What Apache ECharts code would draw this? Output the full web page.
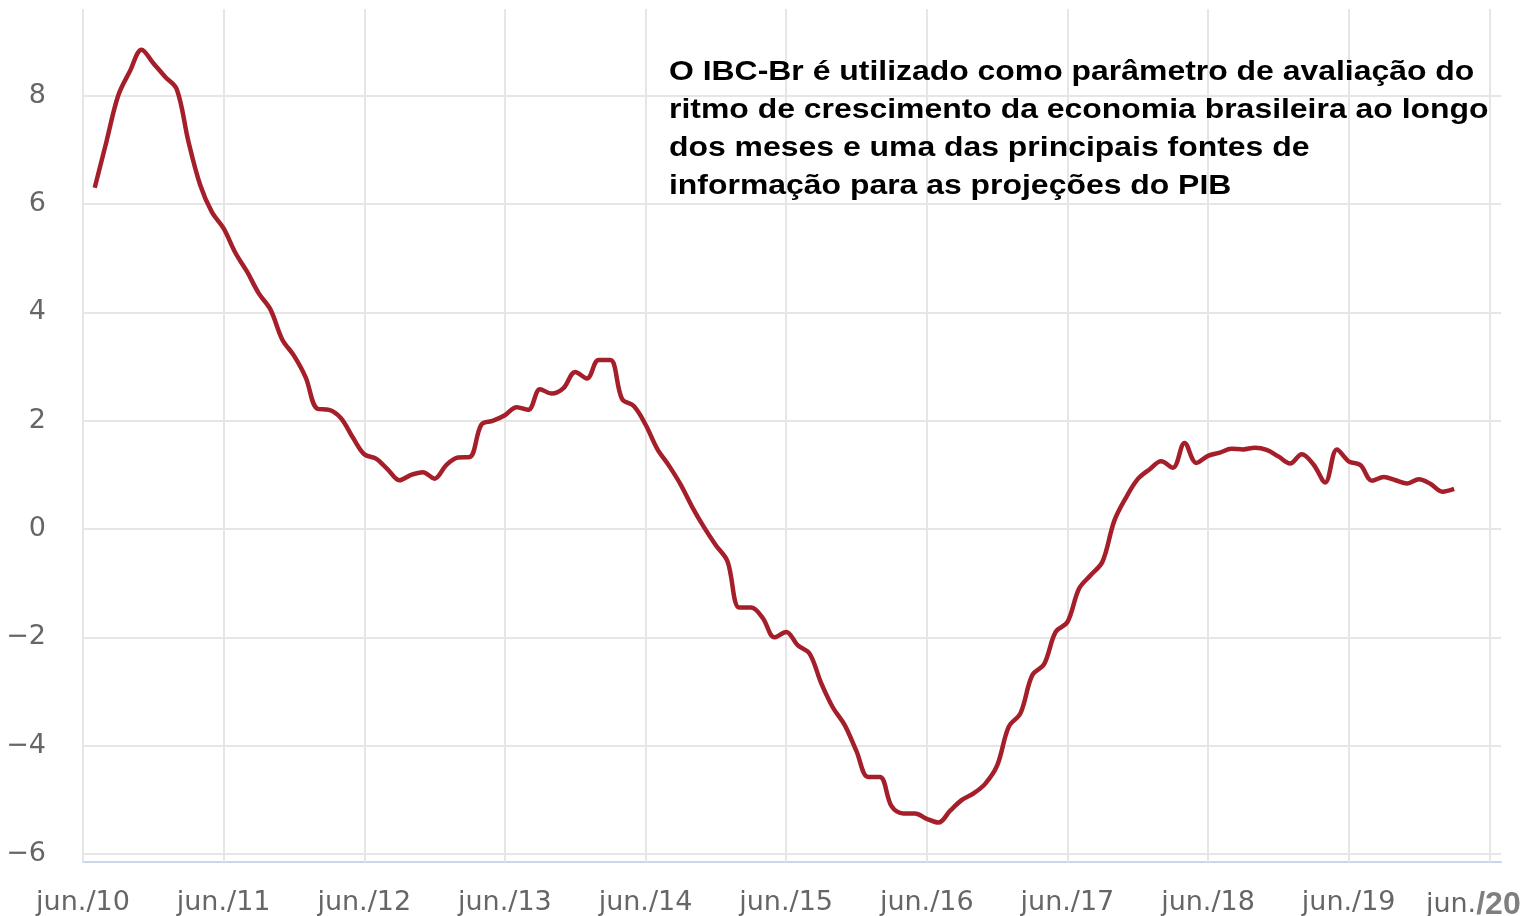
<!DOCTYPE html>
<html>
<head>
<meta charset="utf-8">
<title>IBC-Br</title>
<script src="https://cdn.jsdelivr.net/npm/echarts@6.0.0/dist/echarts.min.js"></script>
<style>
  html, body { margin: 0; padding: 0; background: #fff; }
  #chartDom { width: 1530px; height: 916px; }
</style>
</head>
<body>
<div id="chartDom"></div>
<script>
// meses de jun./10 a jul./20 (eixo x)
var monthNames = ['jun', 'jul', 'ago', 'set', 'out', 'nov', 'dez', 'jan', 'fev', 'mar', 'abr', 'mai'];
var categories = [];
for (var i = 0; i < 122; i++) {
    var yy = 10 + Math.floor((i + 5) / 12);
    categories.push(monthNames[i % 12] + './' + yy);
}

// rótulos do eixo x, um por ano
var tickLabels = ['jun./10', 'jun./11', 'jun./12', 'jun./13', 'jun./14', 'jun./15',
    'jun./16', 'jun./17', 'jun./18', 'jun./19', 'jun./20'];

// IBC-Br, variação acumulada em 12 meses (%), de jul./10 a mar./20
var ibcValues = [
    6.3, 7.15, 8.0, 8.45, 8.85, 8.6, 8.35, 8.12, 7.15, 6.35, 5.85, 5.55,
    5.1, 4.75, 4.35, 4.05, 3.5, 3.2, 2.8, 2.22, 2.2, 2.05, 1.7, 1.38,
    1.3, 1.1, 0.9, 1.0, 1.05, 0.93, 1.18, 1.32, 1.33, 1.93, 2.0, 2.1,
    2.25, 2.2, 2.58, 2.5, 2.6, 2.9, 2.78, 3.12, 3.12, 2.4, 2.27, 1.93,
    1.48, 1.17, 0.82, 0.4, 0.03, -0.3, -0.6, -1.45, -1.45, -1.64, -2.0, -1.9,
    -2.15, -2.3, -2.85, -3.3, -3.62, -4.1, -4.58, -4.58, -5.12, -5.25, -5.25, -5.35,
    -5.42, -5.2, -5.0, -4.88, -4.7, -4.37, -3.65, -3.4, -2.7, -2.5, -1.9, -1.72,
    -1.1, -0.85, -0.6, 0.15, 0.58, 0.92, 1.1, 1.25, 1.13, 1.59, 1.22, 1.35,
    1.41, 1.48, 1.47, 1.5, 1.46, 1.34, 1.21, 1.38, 1.19, 0.86, 1.47, 1.25,
    1.18, 0.89, 0.96, 0.9, 0.84, 0.92, 0.83, 0.69, 0.74
];

var note = 'O IBC-Br é utilizado como parâmetro de avaliação do\n' +
    'ritmo de crescimento da economia brasileira ao longo\n' +
    'dos meses e uma das principais fontes de\n' +
    'informação para as projeções do PIB';
var slideNumber = '20';

var seriesData = ibcValues.map(function (v, i) {
    return [categories[i + 1], v];
});

var everyJune = function (index) {
    return index % 12 === 0;
};

var chartDom = echarts.init(document.getElementById('chartDom'));
chartDom.setOption({
    animation: false,
    grid: {
        left: 83,
        right: 29,
        top: 9,
        bottom: 62,
        outerBoundsMode: 'none'
    },
    xAxis: {
        type: 'category',
        data: categories,
        boundaryGap: false,
        offset: 8,
        axisLine: {
            onZero: false,
            lineStyle: { color: '#ccd6eb', width: 2 }
        },
        axisTick: {
            show: true,
            inside: true,
            length: 8,
            interval: everyJune,
            lineStyle: { color: '#e6e6e6', width: 2 }
        },
        splitLine: {
            show: true,
            interval: everyJune,
            lineStyle: { color: '#e6e6e6', width: 2 }
        },
        axisLabel: {
            interval: everyJune,
            margin: 27,
            color: '#666666',
            fontFamily: 'DejaVu Sans',
            fontSize: 27,
            formatter: function (value, index) {
                var label = tickLabels[index / 12];
                if (label === 'jun./' + slideNumber) {
                    return 'jun.{b|/' + slideNumber + '}';
                }
                return label;
            },
            rich: {
                b: {
                    fontFamily: 'Liberation Sans',
                    fontWeight: 'bold',
                    fontSize: 32,
                    color: '#7f7f7f',
                    padding: [0, 32, 0, 0]
                }
            }
        }
    },
    yAxis: {
        type: 'value',
        min: -6,
        max: 9.6,
        interval: 2,
        axisLine: { show: false },
        axisTick: { show: false },
        splitLine: {
            showMaxLine: false,
            lineStyle: { color: '#e6e6e6', width: 2 }
        },
        axisLabel: {
            showMaxLabel: false,
            margin: 37,
            color: '#666666',
            fontFamily: 'DejaVu Sans',
            fontSize: 27,
            formatter: function (v) {
                return v < 0 ? '\u2212' + Math.abs(v) : String(v);
            }
        }
    },
    graphic: [{
        type: 'text',
        left: 669,
        top: 53,
        z: 100,
        scaleX: 1.14,
        style: {
            text: note,
            fill: '#000000',
            font: 'bold 28px "Liberation Sans", Arial, sans-serif',
            lineHeight: 38
        }
    }],
    series: [{
        name: 'IBC-Br',
        type: 'line',
        data: seriesData,
        smooth: 0.35,
        showSymbol: false,
        lineStyle: { color: '#a51f2b', width: 4.5 }
    }]
});
</script>
</body>
</html>
